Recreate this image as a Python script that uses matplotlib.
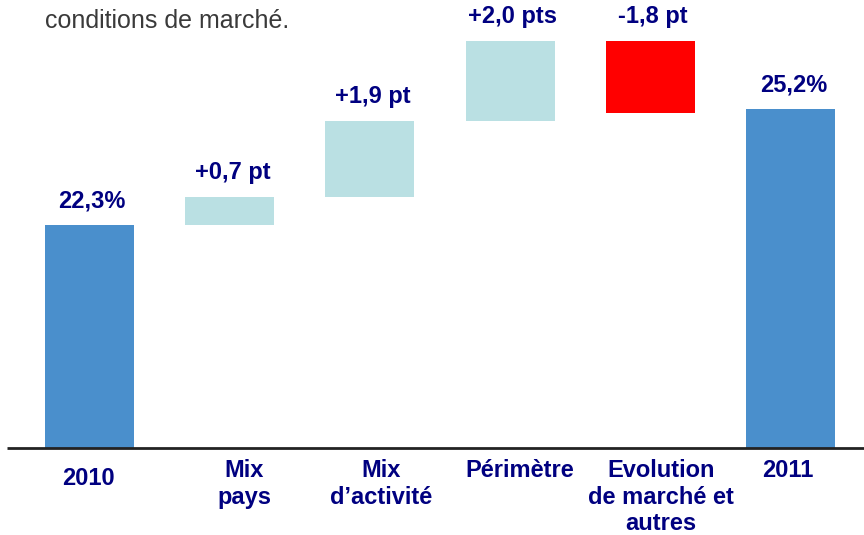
import matplotlib
matplotlib.use("Agg")
import matplotlib.pyplot as plt
import matplotlib.transforms as mtransforms

# Waterfall data (taux de marge, %)
categories = ["2010", "Mix\npays", "Mix\nd\u2019activit\u00e9", "P\u00e9rim\u00e8tre",
              "Evolution\nde march\u00e9 et\nautres", "2011"]
start_value = 22.3
end_value = 25.2
deltas = [0.7, 1.9, 2.0, -1.8]
value_labels = ["22,3%", "+0,7 pt", "+1,9 pt", "+2,0 pts", "-1,8 pt", "25,2%"]

blue = "#4A8FCC"
teal = "#BAE0E3"
red = "#FF0000"
navy = "#000080"

plt.rcParams['font.family'] = ['Liberation Sans', 'DejaVu Sans']

fig = plt.figure(figsize=(8.64, 5.35), dpi=100)
ax = fig.add_axes([0, 0, 1, 1])

# layout: bar pitch ~140 px, first bar centered at ~89 px
pitch = 140.2
x0 = 89.5
ax.set_xlim(-x0 / pitch, (864 - x0) / pitch)
# vertical scale: 40 px per point, 2010 bar top at 225 px from top
ppu = 40.0
y_top = start_value + 225 / ppu
y_bot = start_value - (535 - 225) / ppu
ax.set_ylim(y_bot, y_top)
floor = start_value - (448 - 225) / ppu

width = 89 / pitch

# bars
bottoms, heights, colors, tops = [], [], [], []
bottoms.append(floor)
heights.append(start_value - floor)
colors.append(blue)
tops.append(start_value)
level = start_value
for d in deltas:
    if d >= 0:
        bottoms.append(level)
        heights.append(d)
        colors.append(teal)
        tops.append(level + d)
    else:
        bottoms.append(level + d)
        heights.append(-d)
        colors.append(red)
        tops.append(level)
    level += d
bottoms.append(floor)
heights.append(end_value - floor)
colors.append(blue)
tops.append(end_value)

xs = list(range(len(categories)))
ax.bar(xs, heights, bottom=bottoms, width=width, color=colors, edgecolor="none", zorder=2)

# value labels
for x, t, lab in zip(xs, tops, value_labels):
    ax.annotate(lab, (x + 0.02, t), xytext=(0, 9), textcoords="offset points",
                ha="center", va="bottom", fontsize=17, fontweight="bold", color=navy)

# baseline
ax.plot([-x0 / pitch + 7 / pitch, (864 - x0) / pitch], [floor, floor],
        color="#222222", lw=2, solid_capstyle="butt", zorder=3)

# category labels
trans = mtransforms.blended_transform_factory(ax.transData, ax.transAxes)
label_dx = [-1.5, 14.5, 11.5, 9.5, 10.5, -2.5]
label_top = [467, 459, 459, 459, 459, 459]
for x, cat, dx, ty in zip(xs, categories, label_dx, label_top):
    ax.text(x + dx / pitch, (535 - ty) / 535, cat, transform=trans, ha="center", va="top",
            fontsize=17, fontweight="bold", color=navy, linespacing=1.2)

# cut-off commentary text at the top
fig.text(45 / 864, 1 - 21 / 535, "conditions de march\u00e9.", ha="left", va="center",
         fontsize=18, color="#3a3a3a",
         family=['Liberation Sans Narrow', 'Liberation Sans', 'DejaVu Sans'])

ax.axis("off")
fig.savefig("out.png", dpi=100)
